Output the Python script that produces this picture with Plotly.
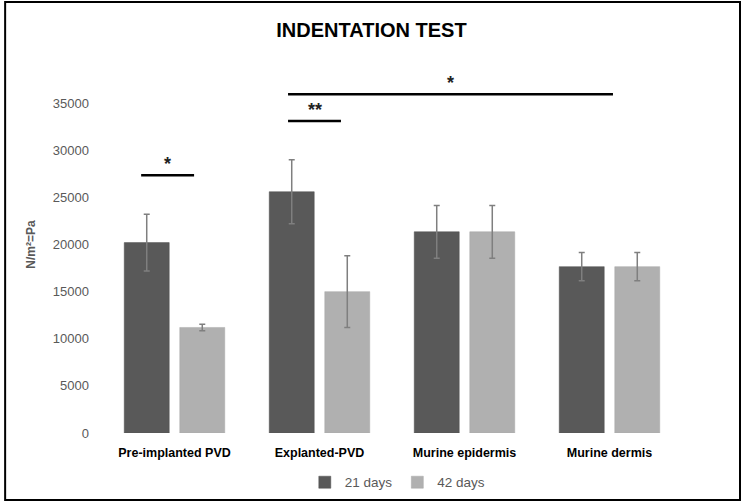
import plotly.graph_objects as go

categories = ["Pre-implanted PVD", "Explanted-PVD", "Murine epidermis", "Murine dermis"]
days21 = [20200, 25600, 21350, 17650]
days21_err = [3000, 3400, 2800, 1500]
days42 = [11200, 15000, 21350, 17650]
days42_err = [350, 3800, 2800, 1500]
series_names = ["21 days", "42 days"]

fig = go.Figure()
fig.add_trace(go.Bar(
    x=categories, y=days21, name=series_names[0],
    marker=dict(color="#595959", line=dict(color="#505050", width=0.5)),
    error_y=dict(type="data", array=days21_err, symmetric=True,
                 color="#7f7f7f", thickness=1.5, width=3),
))
fig.add_trace(go.Bar(
    x=categories, y=days42, name=series_names[1],
    marker=dict(color="#b0b0b0", line=dict(color="#a8a8a8", width=0.5)),
    error_y=dict(type="data", array=days42_err, symmetric=True,
                 color="#7f7f7f", thickness=1.5, width=3),
))

# significance brackets
sig = [
    (-0.23, 0.135, 27350, "*"),
    (0.783, 1.148, 33100, "**"),
    (0.783, 3.024, 35950, "*"),
]
for x0, x1, y, label in sig:
    fig.add_shape(type="line", x0=x0, x1=x1, y0=y, y1=y, xref="x", yref="y",
                  line=dict(color="black", width=2.5))
    fig.add_annotation(x=(x0 + x1) / 2, y=y, text=f"<b>{label}</b>", showarrow=False,
                       yanchor="bottom", yshift=-1,
                       font=dict(size=18, color="#222222", family="Liberation Sans"))

# outer frame
fig.add_shape(type="rect", xref="paper", yref="paper",
              x0=-0.167, x1=1.1, y0=-0.178, y1=1.143,
              line=dict(color="black", width=2))

fig.update_layout(
    width=743, height=502,
    margin=dict(l=102, r=61, t=56, b=69, autoexpand=False),
    paper_bgcolor="white", plot_bgcolor="white",
    title=dict(text="<b>INDENTATION TEST</b>", x=0.5, xanchor="center",
               y=0.94, yanchor="middle",
               font=dict(size=20, color="black", family="Liberation Sans Narrow, Liberation Sans")),
    barmode="group", bargap=0.234, bargroupgap=0.19,
    showlegend=True,
    legend=dict(orientation="h", x=0.51, xanchor="center", y=-0.09, yanchor="top",
                font=dict(size=13.5, color="#595959", family="Liberation Sans"),
                itemwidth=30, traceorder="normal"),
    font=dict(family="Liberation Sans"),
)
fig.update_xaxes(showline=False, showgrid=False, ticks="",
                 tickfont=dict(size=12.5, color="black", family="Liberation Sans"),
                 tickprefix="<b>", ticksuffix="</b>", ticklabelstandoff=10)
fig.update_yaxes(range=[0, 40000], tickvals=[0, 5000, 10000, 15000, 20000, 25000, 30000, 35000],
                 tickformat="d", showgrid=False, showline=False, zeroline=False, ticks="",
                 tickfont=dict(size=13, color="#595959", family="Liberation Sans"),
                 ticklabelstandoff=12,
                 title=dict(text="<b>N/m²=Pa</b>", standoff=14,
                            font=dict(size=12, color="#595959", family="Liberation Sans")))

fig.write_html("out.html", config={"displayModeBar": False},
               post_script="document.body.style.margin='0';document.body.style.overflow='hidden';")
